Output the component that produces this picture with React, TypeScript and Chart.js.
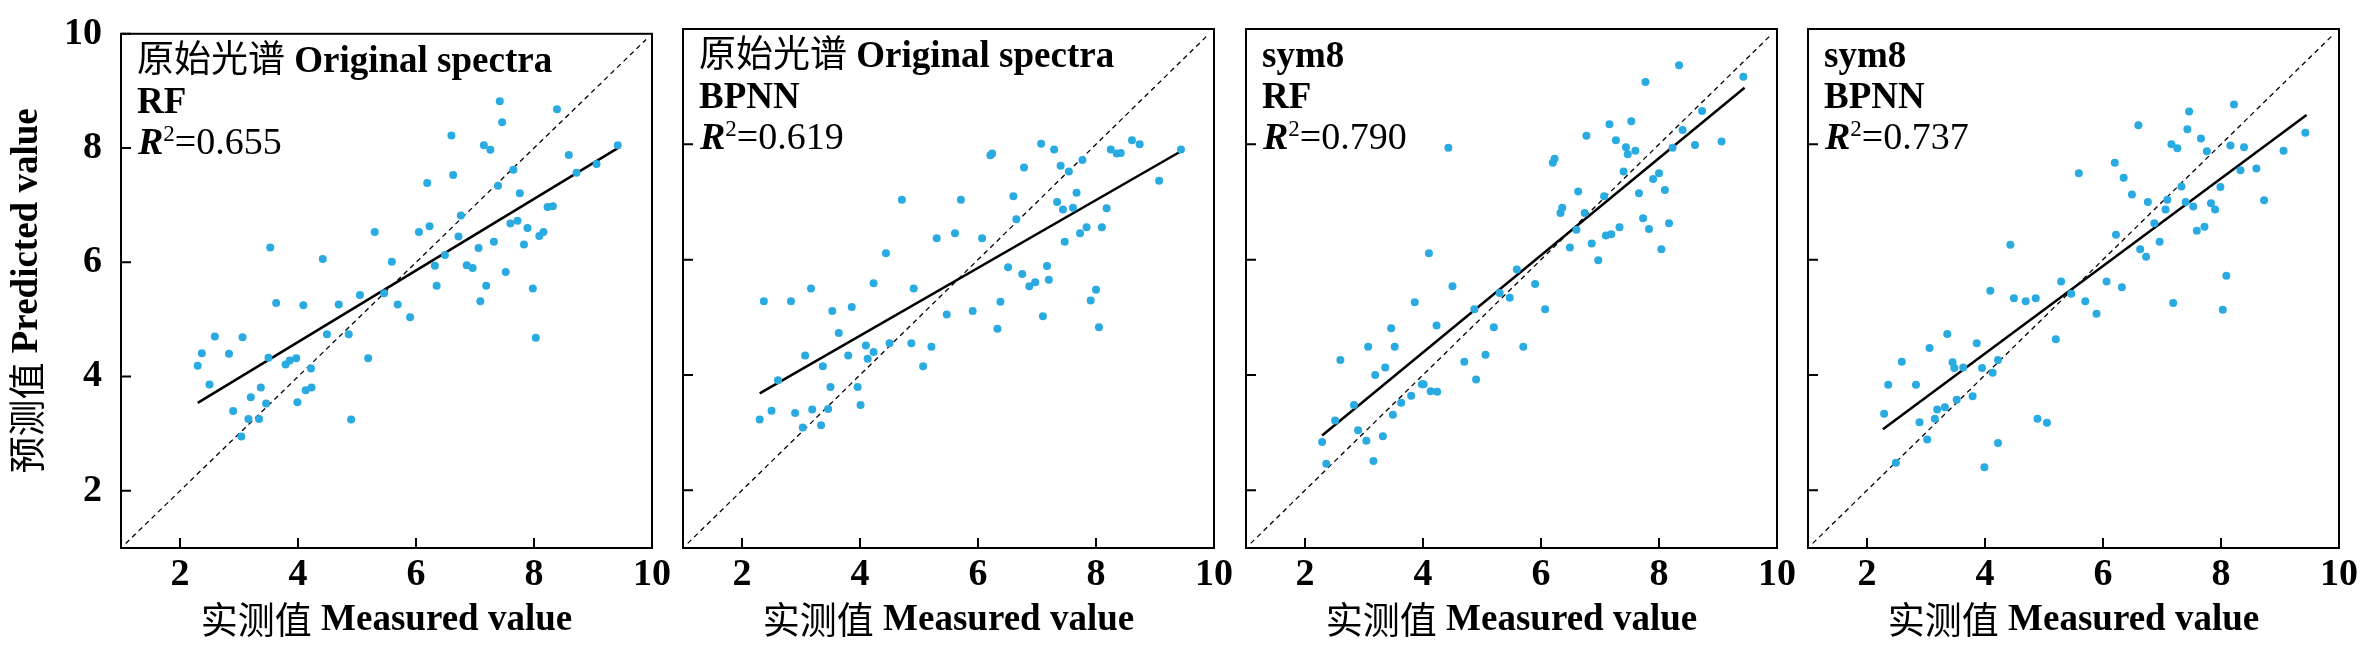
import React, { useEffect, useRef } from 'react';
import { Chart, registerables } from 'chart.js';

Chart.register(...registerables);

// ---------- data ----------
const AXIS_MIN = 1;
const AXIS_MAX = 10;
const TICKS = [2, 4, 6, 8, 10];
const DIAG = [1.08, 9.9];
const X_TITLE = '实测值 Measured value';
const Y_TITLE = '预测值 Predicted value';

const p1Measured = [2.30,2.37,2.50,2.59,2.83,2.90,3.06,3.04,3.16,3.20,3.34,3.37,3.46,3.50,3.53,3.63,3.79,3.86,3.97,3.99,4.09,4.13,4.22,4.23,4.42,4.49,4.69,4.86,4.90,5.05,5.19,5.30,5.46,5.59,5.69,5.90,6.05,6.19,6.23,6.32,6.35,6.49,6.60,6.63,6.72,6.76,6.86,6.96,7.06,7.09,7.15,7.19,7.26,7.32,7.39,7.42,7.46,7.52,7.60,7.65,7.72,7.76,7.83,7.89,7.98,8.03,8.09,8.16,8.23,8.32,8.39,8.59,8.72,9.06,9.42];
const p1Predicted = [4.19,4.41,3.86,4.70,4.40,3.40,4.69,2.95,3.26,3.64,3.26,3.81,3.53,4.33,6.26,5.29,4.21,4.28,4.32,3.55,5.25,3.76,4.14,3.81,6.06,4.74,5.26,4.74,3.25,5.43,4.32,6.53,5.46,6.01,5.26,5.04,6.53,7.39,6.63,5.94,5.59,6.13,8.22,7.53,6.45,6.82,5.95,5.90,6.25,5.32,8.05,5.59,7.97,6.36,7.34,8.82,8.45,5.83,6.68,7.62,6.73,7.21,6.31,6.60,5.54,4.68,6.46,6.53,6.97,6.98,8.68,7.88,7.57,7.72,8.05];
const p1FitX = [2.30, 9.42];
const p1FitY = [3.54, 8.00];

const p2Measured = [2.30,2.37,2.50,2.61,2.83,2.90,3.03,3.07,3.17,3.19,3.34,3.37,3.46,3.50,3.53,3.64,3.80,3.86,3.96,4.01,4.10,4.13,4.23,4.23,4.44,4.50,4.71,4.87,4.91,5.07,5.21,5.30,5.47,5.61,5.71,5.91,6.07,6.21,6.24,6.33,6.38,6.51,6.60,6.65,6.75,6.78,6.87,6.97,7.07,7.10,7.17,7.20,7.29,7.34,7.40,7.44,7.47,7.54,7.61,7.67,7.73,7.77,7.84,7.91,8.00,8.05,8.10,8.18,8.25,8.35,8.42,8.61,8.74,9.07,9.44];
const p2Predicted = [3.23,5.28,3.38,3.91,5.28,3.34,3.09,4.34,5.50,3.40,3.13,4.15,3.41,3.79,5.11,4.73,4.34,5.18,3.79,3.48,4.51,4.28,4.40,5.59,6.11,4.55,7.04,4.55,5.50,4.15,4.49,6.37,5.05,6.46,7.04,5.11,6.37,7.81,7.84,4.80,5.27,5.87,7.10,6.70,5.75,7.60,5.54,5.61,8.01,5.02,5.89,5.65,7.91,7.00,7.63,6.87,6.31,7.53,6.90,7.16,6.46,7.73,6.56,5.29,5.48,4.83,6.56,6.89,7.91,7.84,7.85,8.07,8.00,7.37,7.91];
const p2FitX = [2.30, 9.44];
const p2FitY = [3.68, 7.88];

const p3Measured = [2.29,2.36,2.51,2.60,2.83,2.90,3.04,3.07,3.16,3.19,3.32,3.36,3.46,3.49,3.52,3.63,3.80,3.86,3.98,4.01,4.10,4.13,4.23,4.24,4.43,4.50,4.70,4.87,4.90,5.06,5.20,5.30,5.47,5.59,5.70,5.90,6.07,6.20,6.23,6.33,6.36,6.49,6.60,6.63,6.74,6.77,6.86,6.97,7.07,7.10,7.16,7.19,7.27,7.33,7.40,7.44,7.47,7.53,7.60,7.66,7.73,7.77,7.83,7.90,8.00,8.04,8.10,8.17,8.23,8.34,8.40,8.61,8.73,9.06,9.43];
const p3Predicted = [2.84,2.46,3.21,4.26,3.48,3.04,2.86,4.49,2.51,4.00,2.94,4.13,4.81,3.31,4.49,3.52,3.64,5.26,3.84,3.84,6.11,3.72,4.86,3.71,7.94,5.54,4.23,5.14,3.92,4.35,4.83,5.42,5.34,5.83,4.49,5.58,5.14,7.68,7.75,6.81,6.90,6.21,6.52,7.18,6.81,8.15,6.28,5.99,7.10,6.42,8.35,6.44,8.07,6.56,7.53,7.95,7.83,8.40,7.89,7.15,6.72,9.08,6.53,7.40,7.50,6.18,7.21,6.63,7.94,9.37,8.25,7.99,8.58,8.05,9.17];
const p3FitX = [2.29, 9.45];
const p3FitY = [2.95, 8.98];

const p4Measured = [2.29,2.36,2.49,2.59,2.83,2.89,3.02,3.06,3.15,3.19,3.32,3.36,3.45,3.48,3.52,3.63,3.79,3.86,3.95,3.99,4.09,4.13,4.22,4.22,4.43,4.49,4.69,4.86,4.89,5.05,5.20,5.29,5.46,5.59,5.70,5.89,6.06,6.20,6.22,6.32,6.35,6.49,6.60,6.63,6.73,6.76,6.87,6.96,7.06,7.09,7.16,7.19,7.26,7.33,7.40,7.43,7.46,7.53,7.59,7.66,7.72,7.76,7.83,7.90,7.99,8.03,8.09,8.16,8.22,8.33,8.39,8.60,8.73,9.06,9.43];
const p4Predicted = [3.33,3.83,2.48,4.23,3.83,3.18,2.88,4.47,3.24,3.40,3.44,4.71,4.22,4.12,3.57,4.13,3.63,4.55,4.12,2.40,5.46,4.04,4.26,2.82,6.26,5.33,5.28,5.33,3.24,3.17,4.62,5.62,5.41,7.50,5.28,5.06,5.62,7.68,6.43,5.52,7.42,7.13,8.33,6.18,6.05,7.00,6.63,6.31,6.87,7.04,8.00,5.25,7.93,7.27,7.00,8.26,8.57,6.92,6.50,8.10,6.57,7.88,6.98,6.87,7.26,5.13,5.72,7.98,8.69,7.55,7.95,7.58,7.03,7.89,8.20];
const p4FitX = [2.27, 9.45];
const p4FitY = [3.06, 8.51];

const PANELS = [
  { data: '原始光谱 Original spectra', model: 'RF', r2: '0.655', mx: p1Measured, py: p1Predicted, fx: p1FitX, fy: p1FitY },
  { data: '原始光谱 Original spectra', model: 'BPNN', r2: '0.619', mx: p2Measured, py: p2Predicted, fx: p2FitX, fy: p2FitY },
  { data: 'sym8', model: 'RF', r2: '0.790', mx: p3Measured, py: p3Predicted, fx: p3FitX, fy: p3FitY },
  { data: 'sym8', model: 'BPNN', r2: '0.737', mx: p4Measured, py: p4Predicted, fx: p4FitX, fy: p4FitY },
];

// ---------- layout / style ----------
const PLOT_LEFTS = [121, 683, 1246, 1808];
const Y_AXIS_W = 121;
const PLOT_W = 531;
const RIGHT_PAD = 42;
const TOP_PAD = 29;
const X_AXIS_H = 107;
const CANVAS_H = 655;
const DOT = '#29abe2';
const SERIF = '"Liberation Serif", "Times New Roman", serif';
const CJK = '"Noto Sans CJK SC"';
const TEXT_SIZE = 37;

const CJK_RE = /[\u2E80-\u9FFF\uFF00-\uFFEF]/;

function drawMixed(ctx: CanvasRenderingContext2D, text: string, x: number, y: number, size: number, latinWeight: string, align: 'left' | 'center') {
  const runs: { cjk: boolean; t: string; w: number }[] = [];
  for (const ch of text) {
    const cjk = CJK_RE.test(ch);
    const last = runs[runs.length - 1];
    if (last && last.cjk === cjk) last.t += ch;
    else runs.push({ cjk, t: ch, w: 0 });
  }
  const fontFor = (r: { cjk: boolean }) => (r.cjk ? `${size}px ${CJK}` : `${latinWeight} ${size}px ${SERIF}`);
  let total = 0;
  for (const r of runs) {
    ctx.font = fontFor(r);
    r.w = ctx.measureText(r.t).width;
    total += r.w;
  }
  let cx = align === 'center' ? x - total / 2 : x;
  ctx.textAlign = 'left';
  for (const r of runs) {
    ctx.font = fontFor(r);
    ctx.fillText(r.t, cx, y);
    cx += r.w;
  }
}

const framePlugin = {
  id: 'frame',
  afterDatasetsDraw(chart: any, _args: any, opts: any) {
    const { ctx, chartArea } = chart;
    const { left, right, top, bottom } = chartArea;
    const xs = chart.scales.x;
    const ys = chart.scales.y;
    const panel = opts.panel;
    ctx.save();
    ctx.strokeStyle = '#000';
    ctx.lineWidth = 2;
    ctx.strokeRect(left, top, right - left, bottom - top);
    ctx.beginPath();
    for (const v of TICKS) {
      const px = xs.getPixelForValue(v);
      ctx.moveTo(px, bottom);
      ctx.lineTo(px, bottom - 10);
      const py = ys.getPixelForValue(v);
      ctx.moveTo(left, py);
      ctx.lineTo(left + 10, py);
    }
    ctx.stroke();

    // annotation lines
    ctx.fillStyle = '#000';
    ctx.textBaseline = 'alphabetic';
    const tx = left + 16;
    drawMixed(ctx, panel.data, tx, top + 38, TEXT_SIZE, 'bold', 'left');
    drawMixed(ctx, panel.model, tx, top + 79, TEXT_SIZE, 'bold', 'left');
    let cx = tx + 1;
    const by = top + 120;
    ctx.font = `italic bold 38px ${SERIF}`;
    ctx.fillText('R', cx, by);
    cx += ctx.measureText('R').width;
    ctx.font = `23px ${SERIF}`;
    ctx.fillText('2', cx, by - 13);
    cx += ctx.measureText('2').width;
    ctx.font = `38px ${SERIF}`;
    ctx.fillText('=' + panel.r2, cx, by);

    // axis titles
    ctx.textBaseline = 'middle';
    drawMixed(ctx, X_TITLE, (left + right) / 2, 620, TEXT_SIZE, 'bold', 'center');
    if (opts.showY) {
      ctx.save();
      ctx.translate(27, (top + bottom) / 2);
      ctx.rotate(-Math.PI / 2);
      drawMixed(ctx, Y_TITLE, 0, 0, TEXT_SIZE, 'bold', 'center');
      ctx.restore();
    }
    ctx.restore();
  },
};

function Panel({ index }: { index: number }) {
  const ref = useRef<HTMLCanvasElement | null>(null);
  const panel = PANELS[index];
  const showY = index === 0;
  const width = Y_AXIS_W + PLOT_W + RIGHT_PAD;

  useEffect(() => {
    if (!ref.current) return;
    const n = Math.min(panel.mx.length, panel.py.length);
    const pts = [] as { x: number; y: number }[];
    for (let i = 0; i < n; i++) pts.push({ x: panel.mx[i], y: panel.py[i] });
    const fit = panel.fx.map((x, i) => ({ x, y: panel.fy[i] }));
    const diag = DIAG.map((v) => ({ x: v, y: v }));
    const tickFont = { family: SERIF, size: 38, weight: 'bold' as const };

    const chart = new Chart(ref.current, {
      type: 'scatter',
      data: {
        datasets: [
          { data: pts, backgroundColor: DOT, borderWidth: 0, pointRadius: 4, pointHoverRadius: 4 },
          { data: fit, showLine: true, borderColor: '#000', borderWidth: 2.5, pointRadius: 0 },
          { data: diag, showLine: true, borderColor: '#000', borderWidth: 1.3, borderDash: [5, 4], pointRadius: 0 },
        ],
      },
      options: {
        responsive: false,
        animation: false,
        events: [],
        layout: { padding: { left: 0, top: TOP_PAD, right: RIGHT_PAD, bottom: 0 } },
        plugins: {
          legend: { display: false },
          tooltip: { enabled: false },
          frame: { panel, showY },
        } as any,
        scales: {
          x: {
            type: 'linear',
            min: AXIS_MIN,
            max: AXIS_MAX,
            afterBuildTicks: (s: any) => { s.ticks = TICKS.map((v) => ({ value: v })); },
            afterFit: (s: any) => { s.height = X_AXIS_H; },
            grid: { display: false },
            border: { display: false },
            ticks: { font: tickFont, color: '#000', padding: -4, maxRotation: 0, autoSkip: false },
          },
          y: {
            type: 'linear',
            min: AXIS_MIN,
            max: AXIS_MAX,
            afterBuildTicks: (s: any) => { s.ticks = TICKS.map((v) => ({ value: v })); },
            afterFit: (s: any) => { s.width = Y_AXIS_W; },
            grid: { display: false },
            border: { display: false },
            ticks: { display: showY, font: tickFont, color: '#000', padding: 11, autoSkip: false },
          },
        },
      },
      plugins: [framePlugin],
    });
    return () => chart.destroy();
  }, []);

  return (
    <canvas
      ref={ref}
      width={width}
      height={CANVAS_H}
      style={{ position: 'absolute', left: PLOT_LEFTS[index] - Y_AXIS_W, top: 0, width, height: CANVAS_H }}
    />
  );
}

export default function App() {
  return (
    <div style={{ position: 'absolute', left: 0, top: 0, width: 2364, height: 655, background: '#fff', overflow: 'hidden' }}>
      {PANELS.map((_, i) => (
        <Panel key={i} index={i} />
      ))}
    </div>
  );
}
